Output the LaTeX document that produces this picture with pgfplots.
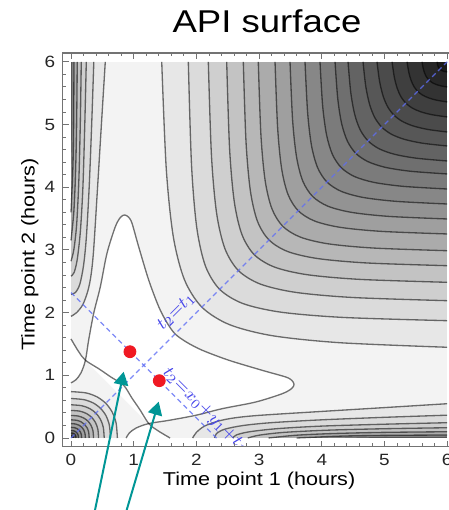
\documentclass[border=0pt]{standalone}
\usepackage{fontspec}
\setmainfont{Liberation Sans}[FakeStretch=1.16]
\usepackage{pgfplots}
\pgfplotsset{compat=1.18}
\usepackage{pgfplotstable}
\usetikzlibrary{arrows.meta}

\definecolor{lineblue}{RGB}{95,110,245}
\definecolor{labblue}{RGB}{70,70,235}
\definecolor{dotred}{RGB}{240,25,35}
\definecolor{arrteal}{RGB}{0,150,150}

% upper-right contour lines (top edge -> right edge)
\pgfplotstableread[row sep=\\]{x y\\1.447 6\\1.519 4.297\\1.631 3.214\\1.809 2.525\\2.087 2.087\\2.525 1.809\\3.214 1.631\\4.297 1.519\\6 1.447\\}\tCa
\pgfplotstableread[row sep=\\]{x y\\1.871 6\\1.922 4.355\\2.006 3.353\\2.144 2.743\\2.371 2.371\\2.743 2.144\\3.353 2.006\\4.355 1.922\\6 1.871\\}\tCb
\pgfplotstableread[row sep=\\]{x y\\2.190 6\\2.240 4.506\\2.322 3.586\\2.455 3.019\\2.670 2.670\\3.019 2.455\\3.586 2.322\\4.506 2.240\\6 2.190\\}\tCc
\pgfplotstableread[row sep=\\]{x y\\2.483 6\\2.529 4.618\\2.604 3.768\\2.726 3.245\\2.923 2.923\\3.245 2.726\\3.768 2.604\\4.618 2.529\\6 2.483\\}\tCd
\pgfplotstableread[row sep=\\]{x y\\2.748 6\\2.791 4.726\\2.861 3.940\\2.974 3.456\\3.158 3.158\\3.456 2.974\\3.940 2.861\\4.726 2.791\\6 2.748\\}\tCe
\pgfplotstableread[row sep=\\]{x y\\2.987 6\\3.029 4.832\\3.096 4.107\\3.204 3.657\\3.377 3.377\\3.657 3.204\\4.107 3.096\\4.832 3.029\\6 2.987\\}\tCf
\pgfplotstableread[row sep=\\]{x y\\3.254 6\\3.295 4.954\\3.359 4.297\\3.461 3.884\\3.624 3.624\\3.884 3.461\\4.297 3.359\\4.954 3.295\\6 3.254\\}\tCg
\pgfplotstableread[row sep=\\]{x y\\3.493 6\\3.534 5.071\\3.598 4.477\\3.697 4.096\\3.853 3.853\\4.096 3.697\\4.477 3.598\\5.071 3.534\\6 3.493\\}\tCh
\pgfplotstableread[row sep=\\]{x y\\3.732 6\\3.774 5.187\\3.837 4.656\\3.934 4.309\\4.082 4.082\\4.309 3.934\\4.656 3.837\\5.187 3.774\\6 3.732\\}\tCi
\pgfplotstableread[row sep=\\]{x y\\3.971 6\\4.013 5.302\\4.076 4.834\\4.170 4.521\\4.311 4.311\\4.521 4.170\\4.834 4.076\\5.302 4.013\\6 3.971\\}\tCj
\pgfplotstableread[row sep=\\]{x y\\4.211 6\\4.254 5.415\\4.317 5.011\\4.409 4.733\\4.541 4.541\\4.733 4.409\\5.011 4.317\\5.415 4.254\\6 4.211\\}\tCk
\pgfplotstableread[row sep=\\]{x y\\4.418 6\\4.462 5.509\\4.525 5.160\\4.613 4.913\\4.738 4.738\\4.913 4.613\\5.160 4.525\\5.509 4.462\\6 4.418\\}\tCl
\pgfplotstableread[row sep=\\]{x y\\4.657 6\\4.701 5.608\\4.762 5.321\\4.844 5.111\\4.957 4.957\\5.111 4.844\\5.321 4.762\\5.608 4.701\\6 4.657\\}\tCm
\pgfplotstableread[row sep=\\]{x y\\4.880 6\\4.921 5.689\\4.977 5.456\\5.051 5.281\\5.150 5.150\\5.281 5.051\\5.456 4.977\\5.689 4.921\\6 4.880\\}\tCn
\pgfplotstableread[row sep=\\]{x y\\5.120 6\\5.155 5.762\\5.201 5.582\\5.261 5.444\\5.340 5.340\\5.444 5.261\\5.582 5.201\\5.762 5.155\\6 5.120\\}\tCo
\pgfplotstableread[row sep=\\]{x y\\5.359 6\\5.387 5.834\\5.423 5.706\\5.469 5.606\\5.529 5.529\\5.606 5.469\\5.706 5.423\\5.834 5.387\\6 5.359\\}\tCp
\pgfplotstableread[row sep=\\]{x y\\5.598 6\\5.616 5.899\\5.640 5.819\\5.670 5.757\\5.708 5.708\\5.757 5.670\\5.819 5.640\\5.899 5.616\\6 5.598\\}\tCq
\pgfplotstableread[row sep=\\]{x y\\5.837 6\\5.844 5.959\\5.854 5.927\\5.866 5.902\\5.882 5.882\\5.902 5.866\\5.927 5.854\\5.959 5.844\\6 5.837\\}\tCr

% left band lines (bottom band = same with x and y swapped)
\pgfplotstableread[row sep=\\]{x y\\0.547 6\\0.485 5\\0.424 4\\0.361 3\\0.32 2.6\\0.27 2.35\\0.19 2.13\\0.09 2.0\\0 1.94\\}\tBa
\pgfplotstableread[row sep=\\]{x y\\0.364 6\\0.33 5\\0.29 4\\0.245 3.2\\0.20 2.75\\0.14 2.45\\0.07 2.32\\0 2.29\\}\tBb
\pgfplotstableread[row sep=\\]{x y\\0.244 6\\0.22 5\\0.19 4\\0.15 3.3\\0.10 2.85\\0.05 2.64\\0 2.58\\}\tBc
\pgfplotstableread[row sep=\\]{x y\\0.164 6\\0.148 5\\0.125 4.1\\0.09 3.4\\0.045 3.0\\0 2.82\\}\tBd
\pgfplotstableread[row sep=\\]{x y\\0.10 6\\0.09 5\\0.072 4.2\\0.045 3.6\\0 3.15\\}\tBe
\pgfplotstableread[row sep=\\]{x y\\0.048 6\\0.042 5\\0.03 4.3\\0 3.6\\}\tBf
\pgfplotstableread[row sep=\\]{x y\\0.02 6\\0.016 5\\0 4.2\\}\tBg

% bump at the origin
\pgfplotstableread[row sep=\\]{x y\\0 0.74\\0.240 0.719\\0.415 0.656\\0.554 0.554\\0.656 0.415\\0.719 0.240\\0.74 0\\}\tRa
\pgfplotstableread[row sep=\\]{x y\\0 0.63\\0.204 0.612\\0.354 0.559\\0.472 0.472\\0.559 0.354\\0.612 0.204\\0.63 0\\}\tRb
\pgfplotstableread[row sep=\\]{x y\\0 0.53\\0.172 0.515\\0.297 0.470\\0.397 0.397\\0.470 0.297\\0.515 0.172\\0.53 0\\}\tRc
\pgfplotstableread[row sep=\\]{x y\\0 0.44\\0.143 0.428\\0.247 0.390\\0.330 0.330\\0.390 0.247\\0.428 0.143\\0.44 0\\}\tRd
\pgfplotstableread[row sep=\\]{x y\\0 0.36\\0.117 0.350\\0.202 0.319\\0.270 0.270\\0.319 0.202\\0.350 0.117\\0.36 0\\}\tRe
\pgfplotstableread[row sep=\\]{x y\\0 0.29\\0.094 0.282\\0.163 0.257\\0.217 0.217\\0.257 0.163\\0.282 0.094\\0.29 0\\}\tRf
\pgfplotstableread[row sep=\\]{x y\\0 0.23\\0.075 0.223\\0.129 0.204\\0.172 0.172\\0.204 0.129\\0.223 0.075\\0.23 0\\}\tRg
\pgfplotstableread[row sep=\\]{x y\\0 0.17\\0.055 0.165\\0.095 0.151\\0.127 0.127\\0.151 0.095\\0.165 0.055\\0.17 0\\}\tRh
\pgfplotstableread[row sep=\\]{x y\\0 0.12\\0.039 0.117\\0.067 0.106\\0.090 0.090\\0.106 0.067\\0.117 0.039\\0.12 0\\}\tRi
\pgfplotstableread[row sep=\\]{x y\\0 0.08\\0.026 0.078\\0.045 0.071\\0.060 0.060\\0.071 0.045\\0.078 0.026\\0.08 0\\}\tRj
\pgfplotstableread[row sep=\\]{x y\\0 0.045\\0.015 0.044\\0.025 0.040\\0.034 0.034\\0.040 0.025\\0.044 0.015\\0.045 0\\}\tRk

% lowest (white) region
\pgfplotstableread[row sep=\\]{x y\\0.23 1.24\\0.282 1.563\\0.362 1.989\\0.468 2.413\\0.574 2.946\\0.707 3.37\\0.79 3.52\\0.856 3.557\\0.92 3.52\\0.973 3.424\\1.079 3.051\\1.239 2.520\\1.399 2.094\\1.53 1.84\\1.66 1.66\\1.84 1.53\\2.094 1.399\\2.520 1.239\\3.051 1.079\\3.424 0.973\\3.52 0.92\\3.557 0.856\\3.52 0.79\\3.37 0.707\\2.946 0.574\\2.413 0.468\\1.989 0.362\\1.563 0.282\\1.24 0.23\\}\tWm
\pgfplotstableread[row sep=\\]{x y\\0.23 1.24\\0.45 1.10\\0.64 0.97\\0.84 0.84\\0.97 0.64\\1.10 0.45\\1.24 0.23\\}\tWb
\pgfplotstableread[row sep=\\]{x y\\0 1.58\\0.12 1.38\\0.23 1.24\\0.16 1.04\\0.08 0.93\\0 0.88\\}\tWs
\pgfplotstableread[row sep=\\]{x y\\0 0.88\\0.08 0.93\\0.16 1.04\\0.23 1.24\\0.282 1.563\\0.362 1.989\\0.468 2.413\\0.574 2.946\\0.707 3.37\\0.79 3.52\\0.856 3.557\\0.92 3.52\\0.973 3.424\\1.079 3.051\\1.239 2.520\\1.399 2.094\\1.53 1.84\\1.66 1.66\\1.84 1.53\\2.094 1.399\\2.520 1.239\\3.051 1.079\\3.424 0.973\\3.52 0.92\\3.557 0.856\\3.52 0.79\\3.37 0.707\\2.946 0.574\\2.413 0.468\\1.989 0.362\\1.563 0.282\\1.24 0.23\\1.04 0.16\\0.93 0.08\\0.88 0\\}\tWo
\pgfplotstableread[row sep=\\]{x y\\0 1.58\\0.12 1.38\\0.23 1.24\\0.45 1.10\\0.64 0.97\\0.84 0.84\\0.97 0.64\\1.10 0.45\\1.24 0.23\\1.38 0.12\\1.58 0\\}\tWt

\begin{document}
\begin{tikzpicture}
\begin{axis}[
  x=1cm, y=1cm,
  xmin=-0.13, xmax=6.13, ymin=-0.14, ymax=6.14,
  xtick={0,...,6}, ytick={0,...,6},
  minor tick num=4,
  tick align=inside,
  major tick length=0.1cm, minor tick length=0.055cm,
  axis line style={black!55, line width=0.5pt},
  tick style={black!55, line width=0.4pt},
  ticklabel style={font=\fontsize{7.4}{8}\selectfont, text=black!85},
  /pgf/number format/assume math mode=true,
  axis on top,
  fl/.style={smooth, draw=none, fill=#1},
  cl/.style={smooth, draw=black, draw opacity=0.55, line width=0.6pt},
]
% background level
\addplot[draw=none, fill=black!4.7] coordinates {(0,0) (6,0) (6,6) (0,6)} -- cycle;

% upper-right levels
\addplot[fl=black!9.4]  table {\tCa} -- (6,6) -- cycle;
\addplot[fl=black!14.1] table {\tCb} -- (6,6) -- cycle;
\addplot[fl=black!18.8] table {\tCc} -- (6,6) -- cycle;
\addplot[fl=black!23.5] table {\tCd} -- (6,6) -- cycle;
\addplot[fl=black!28.2] table {\tCe} -- (6,6) -- cycle;
\addplot[fl=black!32.9] table {\tCf} -- (6,6) -- cycle;
\addplot[fl=black!37.6] table {\tCg} -- (6,6) -- cycle;
\addplot[fl=black!42.3] table {\tCh} -- (6,6) -- cycle;
\addplot[fl=black!47.0] table {\tCi} -- (6,6) -- cycle;
\addplot[fl=black!51.7] table {\tCj} -- (6,6) -- cycle;
\addplot[fl=black!56.4] table {\tCk} -- (6,6) -- cycle;
\addplot[fl=black!61.1] table {\tCl} -- (6,6) -- cycle;
\addplot[fl=black!65.8] table {\tCm} -- (6,6) -- cycle;
\addplot[fl=black!70.5] table {\tCn} -- (6,6) -- cycle;
\addplot[fl=black!75.2] table {\tCo} -- (6,6) -- cycle;
\addplot[fl=black!79.9] table {\tCp} -- (6,6) -- cycle;
\addplot[fl=black!84.6] table {\tCq} -- (6,6) -- cycle;
\addplot[fl=black!89.3] table {\tCr} -- (6,6) -- cycle;

% left band
\addplot[fl=black!9.4]  table {\tBa} -- (0,6) -- cycle;
\addplot[fl=black!14.1] table {\tBb} -- (0,6) -- cycle;
\addplot[fl=black!18.8] table {\tBc} -- (0,6) -- cycle;
\addplot[fl=black!23.5] table {\tBd} -- (0,6) -- cycle;
\addplot[fl=black!32.9] table {\tBe} -- (0,6) -- cycle;
\addplot[fl=black!47.0] table {\tBf} -- (0,6) -- cycle;
\addplot[fl=black!65.8] table {\tBg} -- (0,6) -- cycle;
% bottom band
\addplot[fl=black!9.4]  table[x=y,y=x] {\tBa} -- (6,0) -- cycle;
\addplot[fl=black!14.1] table[x=y,y=x] {\tBb} -- (6,0) -- cycle;
\addplot[fl=black!18.8] table[x=y,y=x] {\tBc} -- (6,0) -- cycle;
\addplot[fl=black!23.5] table[x=y,y=x] {\tBd} -- (6,0) -- cycle;
\addplot[fl=black!32.9] table[x=y,y=x] {\tBe} -- (6,0) -- cycle;
\addplot[fl=black!47.0] table[x=y,y=x] {\tBf} -- (6,0) -- cycle;
\addplot[fl=black!65.8] table[x=y,y=x] {\tBg} -- (6,0) -- cycle;

% white basin
\addplot[fl=white] table {\tWm} -- cycle;
\addplot[fl=white] table {\tWb} -- cycle;
\addplot[fl=white] table {\tWs} -- cycle;
\addplot[fl=white] table[x=y,y=x] {\tWs} -- cycle;

% bump at the origin
\addplot[fl=black!9.4]  table {\tRa} -- (0,0) -- cycle;
\addplot[fl=black!14.1] table {\tRb} -- (0,0) -- cycle;
\addplot[fl=black!18.8] table {\tRc} -- (0,0) -- cycle;
\addplot[fl=black!23.5] table {\tRd} -- (0,0) -- cycle;
\addplot[fl=black!28.2] table {\tRe} -- (0,0) -- cycle;
\addplot[fl=black!32.9] table {\tRf} -- (0,0) -- cycle;
\addplot[fl=black!37.6] table {\tRg} -- (0,0) -- cycle;
\addplot[fl=black!42.3] table {\tRh} -- (0,0) -- cycle;
\addplot[fl=black!51.7] table {\tRi} -- (0,0) -- cycle;
\addplot[fl=black!65.8] table {\tRj} -- (0,0) -- cycle;
\addplot[fl=black!84.6] table {\tRk} -- (0,0) -- cycle;

% white frame margin
\addplot[draw=none, fill=white] coordinates {(-0.3,-0.3) (0,-0.3) (0,6.3) (-0.3,6.3)} -- cycle;
\addplot[draw=none, fill=white] coordinates {(-0.3,-0.3) (6.3,-0.3) (6.3,0) (-0.3,0)} -- cycle;
\addplot[draw=none, fill=white] coordinates {(-0.3,6) (6.3,6) (6.3,6.3) (-0.3,6.3)} -- cycle;
\addplot[draw=none, fill=white] coordinates {(6,-0.3) (6.3,-0.3) (6.3,6.3) (6,6.3)} -- cycle;

% contour lines
\addplot[cl] table {\tCa}; \addplot[cl] table {\tCb}; \addplot[cl] table {\tCc};
\addplot[cl] table {\tCd}; \addplot[cl] table {\tCe}; \addplot[cl] table {\tCf};
\addplot[cl] table {\tCg}; \addplot[cl] table {\tCh}; \addplot[cl] table {\tCi};
\addplot[cl] table {\tCj}; \addplot[cl] table {\tCk}; \addplot[cl] table {\tCl};
\addplot[cl] table {\tCm}; \addplot[cl] table {\tCn}; \addplot[cl] table {\tCo};
\addplot[cl] table {\tCp}; \addplot[cl] table {\tCq}; \addplot[cl] table {\tCr};
\addplot[cl] table {\tBa}; \addplot[cl] table {\tBb}; \addplot[cl] table {\tBc};
\addplot[cl] table {\tBd}; \addplot[cl] table {\tBe}; \addplot[cl] table {\tBf};
\addplot[cl] table[x=y,y=x] {\tBa}; \addplot[cl] table[x=y,y=x] {\tBb};
\addplot[cl] table[x=y,y=x] {\tBc}; \addplot[cl] table[x=y,y=x] {\tBd};
\addplot[cl] table[x=y,y=x] {\tBe}; \addplot[cl] table[x=y,y=x] {\tBf};
\addplot[cl] table {\tWo}; \addplot[cl] table {\tWt};
\addplot[cl] table {\tRa}; \addplot[cl] table {\tRb}; \addplot[cl] table {\tRc};
\addplot[cl] table {\tRd}; \addplot[cl] table {\tRe}; \addplot[cl] table {\tRf};
\addplot[cl] table {\tRg}; \addplot[cl] table {\tRh}; \addplot[cl] table {\tRi};
\addplot[cl] table {\tRj};

% design lines and optimal points
\addplot[lineblue, line width=0.6pt, dash pattern=on 2.2pt off 1.6pt, opacity=0.8] coordinates {(0,0) (6,6)};
\addplot[lineblue, line width=0.6pt, dash pattern=on 2.2pt off 1.6pt, opacity=0.8] coordinates {(0,2.32) (2.34,-0.02)};
\addplot[only marks, mark=*, mark size=2.7pt, color=dotred] coordinates {(0.94,1.376) (1.408,0.914)};

\node[rotate=45, text=labblue, font=\fontsize{8.3}{9}\selectfont] at (axis cs:1.68,2.02) {$t_2{=}t_1$};
\node[rotate=-45, text=labblue, font=\fontsize{8.3}{9}\selectfont] at (axis cs:2.14,0.43) {$t_2{=}x_0{+}y_1{+}t_1$};

\coordinate (TT) at (axis cs:3.126,6.475);
\coordinate (XL) at (axis cs:3.0,-0.75);
\coordinate (YL) at (axis cs:-0.58,2.93);
\coordinate (A1t) at (axis cs:0.383,-1.148);
\coordinate (A1h) at (axis cs:0.840,1.057);
\coordinate (A2t) at (axis cs:0.888,-1.148);
\coordinate (A2h) at (axis cs:1.399,0.579);
\coordinate (BBsw) at (axis cs:-1.1324,-1.1483);
\coordinate (BBne) at (axis cs:6.0128,6.9856);
\end{axis}
\node[anchor=base, font=\fontsize{14.3}{17}\selectfont] at (TT) {API surface};
\node[anchor=base, font=\fontsize{8.44}{10}\selectfont] at (XL) {Time point 1 (hours)};
\node[anchor=base, rotate=90, font=\fontsize{8.44}{10}\selectfont] at (YL) {Time point 2 (hours)};
\draw[arrteal, line width=0.9pt, -{Triangle[length=2.1mm,width=2.3mm]}] (A1t) -- (A1h);
\draw[arrteal, line width=0.9pt, -{Triangle[length=2.1mm,width=2.3mm]}] (A2t) -- (A2h);
\pgfresetboundingbox
\path[use as bounding box] (BBsw) rectangle (BBne);
\end{tikzpicture}
\end{document}
